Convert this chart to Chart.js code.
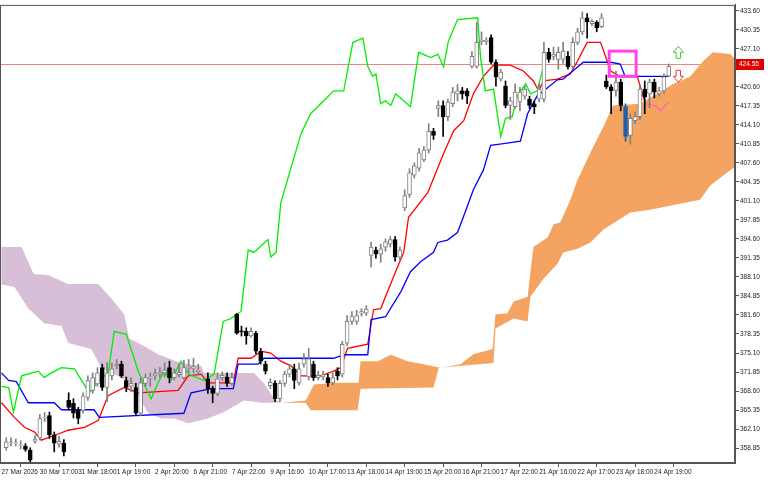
<!DOCTYPE html>
<html><head><meta charset="utf-8">
<script src="https://cdn.jsdelivr.net/npm/chart.js@4"></script>
<style>html,body{margin:0;padding:0;background:#fff}canvas{display:block}</style>
</head><body>
<canvas id="c" width="768" height="480"></canvas>
<script>
const xLabels = ['27 Mar 2026','30 Mar 17:00','31 Mar 18:00','1 Apr 19:00','2 Apr 20:00','6 Apr 21:00','7 Apr 22:00','9 Apr 16:00','10 Apr 17:00','13 Apr 18:00','14 Apr 19:00','15 Apr 20:00','16 Apr 21:00','17 Apr 22:00','21 Apr 16:00','22 Apr 17:00','23 Apr 18:00','24 Apr 19:00'];
const yTicks = [433.60,430.35,427.10,423.85,420.60,417.35,414.10,410.85,407.60,404.35,401.10,397.85,394.60,391.35,388.10,384.85,381.60,378.35,375.10,371.85,368.60,365.35,362.10,358.85];
const lastPrice = 424.55;
// [index, open, high, low, close]
const candles = [
[1,358.9,360.6,358.5,359.9],[2,359.8,360.6,359.2,359.9],[3,359.6,360.4,359.2,359.7],[4,359.3,360.1,358.7,359.4],[5,359.2,359.6,358.3,358.6],
[6,358.5,358.9,356.2,356.8],[7,360.0,361.0,359.7,360.4],[8,360.6,364.6,360.2,363.9],[9,364.0,364.9,363.4,364.1],[10,364.4,365.0,360.5,361.1],
[11,361.1,361.6,358.2,359.7],[12,359.5,360.9,359.0,360.0],[13,359.7,360.3,357.5,358.2],[14,367.0,368.3,365.3,365.8],[15,366.5,367.3,364.0,364.8],
[16,365.3,365.8,363.0,363.9],[17,365.3,368.3,364.8,367.8],[18,367.5,371.2,367.0,370.4],[19,368.7,371.7,368.2,370.9],[20,369.8,372.6,369.4,371.7],
[21,372.6,373.2,368.7,369.2],[22,369.2,373.5,366.8,371.7],[23,371.2,373.4,370.5,372.4],[24,372.9,374.0,372.4,373.2],[25,373.2,373.7,370.9,371.2],
[26,370.4,371.0,368.5,369.2],[27,369.4,370.9,368.5,369.9],[28,369.2,369.9,364.4,364.8],[29,364.8,370.9,364.4,370.0],[30,369.9,371.5,369.4,370.9],
[31,370.8,371.7,369.4,371.0],[32,371.2,372.4,370.5,371.6],[33,371.5,372.6,370.9,371.8],[34,371.7,373.4,371.0,372.2],[35,372.6,373.7,370.0,370.9],
[36,370.9,372.4,370.5,371.7],[37,371.4,373.2,371.0,371.8],[38,370.9,373.9,370.5,372.6],[39,372.4,374.0,371.7,372.7],[40,372.5,374.2,371.7,372.8],
[41,371.9,373.2,371.2,372.2],[43,370.7,371.7,368.2,369.0],[44,369.0,369.4,366.6,368.2],[45,368.2,371.7,367.8,370.7],[46,370.9,371.9,370.4,371.3],
[47,371.0,371.7,369.4,369.9],[48,369.9,371.7,369.6,370.9],[49,381.7,381.9,378.3,378.5],[50,378.9,379.7,378.0,378.7],[51,378.8,379.4,376.6,378.0],
[52,378.0,379.4,377.8,378.8],[53,378.5,378.8,375.0,375.4],[54,375.4,375.9,373.2,373.7],[55,373.2,373.7,371.5,372.0],[56,369.5,370.7,369.0,370.1],
[57,369.9,370.4,366.8,367.3],[58,367.3,370.4,366.8,369.9],[59,369.9,372.0,369.4,371.5],[60,371.5,373.2,371.0,372.4],[61,372.4,373.2,369.0,370.4],
[62,370.0,373.4,369.6,372.4],[63,373.2,375.0,372.7,374.1],[64,371.0,375.9,370.5,374.1],[65,373.2,373.7,370.4,370.9],[66,370.9,372.0,370.5,371.3],
[67,371.0,372.0,370.5,371.4],[68,370.9,371.5,369.4,370.0],[69,370.0,371.7,369.6,370.9],[70,372.0,372.6,370.5,371.2],[71,371.5,377.1,371.0,376.6],
[72,376.8,381.5,376.3,380.5],[73,380.5,382.2,380.0,381.4],[74,380.5,382.4,380.0,381.5],[75,381.9,382.7,381.4,382.2],[76,381.9,383.2,381.5,382.6],
[77,391.8,394.0,389.8,393.2],[78,392.7,393.2,391.3,392.0],[79,392.0,393.7,390.6,392.9],[80,393.2,394.6,392.5,394.1],[81,393.7,395.0,393.2,394.5],
[82,394.5,395.0,390.8,391.5],[83,391.5,393.2,391.0,392.7],[84,399.9,403.0,399.4,402.0],[85,402.2,406.6,401.7,405.9],[86,405.5,407.6,405.0,407.1],
[87,406.7,410.1,406.2,409.3],[88,408.1,410.4,407.8,409.8],[89,409.8,414.3,409.3,413.0],[90,413.0,413.5,411.6,412.3],[91,416.9,418.2,415.5,417.4],
[92,417.4,418.2,412.1,415.5],[93,415.5,418.5,414.8,418.0],[94,417.7,420.5,417.2,419.7],[95,419.4,421.0,418.2,419.9],[96,419.9,420.5,418.5,419.4],
[97,419.9,420.3,417.7,419.0],[98,424.1,426.6,423.8,425.8],[99,424.1,431.6,423.8,428.2],[100,428.3,430.0,427.8,428.6],[101,428.3,429.0,427.8,428.6],
[102,429.0,429.5,424.5,424.8],[103,424.8,425.2,420.7,422.3],[104,421.9,423.6,421.6,423.1],[105,420.7,421.6,417.0,417.4],[106,417.4,418.8,415.0,418.2],
[107,417.2,421.1,416.9,419.7],[108,418.0,420.5,416.5,419.7],[109,419.0,420.7,418.5,420.2],[110,418.5,419.0,416.9,417.4],[111,417.7,418.2,416.0,417.2],
[112,418.5,421.1,418.0,420.2],[113,418.5,428.2,418.0,426.5],[114,426.5,427.2,424.8,425.3],[115,425.8,427.4,425.2,426.2],[116,425.3,427.4,423.6,426.5],
[117,425.3,428.2,424.6,426.7],[118,425.8,426.6,423.6,424.0],[119,424.1,429.0,423.8,428.2],[120,428.2,430.6,427.8,430.0],[121,430.0,433.4,429.5,432.4],
[122,432.4,433.1,428.9,431.7],[123,431.4,432.1,431.0,431.8],[124,431.6,431.9,430.0,430.7],[125,430.9,433.1,430.7,432.4],[126,421.6,422.6,420.3,420.6],
[127,420.6,421.0,416.0,419.9],[128,419.9,423.3,419.0,421.4],[129,421.4,421.9,416.5,417.4],[130,417.2,417.7,411.3,412.1],[131,412.3,416.0,410.8,415.2],
[132,414.8,416.3,414.3,415.5],[133,415.5,420.7,415.0,420.2],[134,420.2,421.6,416.0,418.9],[135,419.4,421.9,417.0,421.4],[136,421.4,421.9,418.7,419.7],
[137,419.4,420.5,419.0,419.9],[138,419.9,422.8,419.5,422.3],[139,422.4,424.5,422.3,424.1]
];
const blueCandle = 130;
const chikou = [[0,369.4],[1.5,369.2],[2.5,365.0],[4.2,371.2],[7.7,372.0],[8.9,370.9],[10.4,371.7],[12.5,372.6],[15.2,372.4],[18.3,368.3],[20.8,370.9],[22.2,371.5],[23.5,378.8],[26,378.3],[28.5,372.0],[29.7,369.8],[31.2,367.3],[32.6,370.0],[33.9,372.0],[35.3,370.4],[37.4,373.7],[38.9,371.5],[42.2,370.4],[44.3,371.5],[46.2,380.5],[47.8,381.0],[49.9,382.2],[51.4,392.7],[52.6,392.3],[55.5,394.5],[56.1,391.5],[57.2,392.3],[58.2,400.8],[62.4,412.6],[64.4,416.0],[66.5,417.7],[69.2,419.9],[71.3,419.9],[73.2,428.2],[75.3,428.9],[76.3,424.1],[77.3,422.4],[78,422.8],[79,417.7],[80,418.2],[81.1,417.4],[82.1,419.4],[85.2,417.2],[86.9,426.5],[89.4,425.6],[90.9,426.2],[92.1,424.0],[93.1,428.4],[95,432.1],[99.2,432.4],[99.8,425.6],[100.8,419.9],[102.5,420.2],[104,412.1],[105,415.2],[106.4,415.5],[107.5,419.1],[109.2,421.1],[110.2,419.4],[111.6,419.9],[112.9,424.1]];
const tenkan = [[0,366.6],[2.7,364.1],[4.8,362.4],[6.9,361.6],[8.3,360.2],[11,361.0],[13.9,361.9],[17.3,362.4],[20.2,363.6],[22.2,367.8],[25.6,369.2],[28.5,368.3],[36.8,368.7],[38.9,371.2],[41.6,371.5],[43,370.0],[48.3,370.0],[49.3,374.2],[52,374.2],[54.1,375.4],[56.1,375.1],[58.2,373.7],[60.3,372.9],[62.4,371.2],[66.5,371.2],[69.2,372.0],[70.7,372.6],[72.1,375.9],[76.3,376.6],[77.5,382.5],[79,382.7],[82.1,389.0],[83.8,392.3],[84.8,398.3],[88.8,402.5],[92.1,409.2],[94.2,413.1],[96.3,414.8],[98.3,419.4],[100.4,422.4],[102.5,424.3],[106,424.3],[108.7,423.3],[110.8,421.6],[111.9,419.9],[112.9,421.6],[115.8,421.9],[118.5,422.8],[120,425.0],[122,428.2],[124.8,428.2],[126.9,423.3],[129,422.3],[132.5,422.3],[134.1,417.7]];
const pinkLine = [[134.1,417.7],[136.2,417.4],[137.3,416.5],[138.9,418.0]];
const kijun = [[0,371.7],[1.5,370.4],[3.1,370.2],[5.6,366.6],[11,366.6],[12.5,365.4],[19.3,365.4],[20.4,364.1],[38,364.8],[39.5,368.3],[43.7,369.0],[48.3,369.0],[49.3,373.2],[53.4,373.2],[54.7,374.2],[69.2,374.2],[71.3,374.8],[76.3,374.8],[77,380.8],[80,381.3],[83.2,385.6],[85.2,389.0],[87.3,390.7],[90,392.3],[90.9,394.0],[92.9,394.4],[95,395.7],[96.7,399.4],[98.3,403.0],[100.4,406.4],[101.9,410.6],[104.6,410.9],[108.1,411.3],[109.6,416.0],[111.6,419.1],[112.9,419.9],[115.8,421.8],[117,421.9],[120,424.0],[121.2,424.8],[126.9,424.8],[128.9,424.5],[129.9,422.4],[138.9,422.4]];
const kumoPastTop = [[0,393.2],[4.2,393.2],[6.7,388.6],[9.8,388.4],[13.9,386.9],[20.2,386.9],[22.9,384.4],[25.6,381.7],[26.6,377.6],[29.7,376.3],[32.6,374.9],[37.4,373.4],[41.6,372.9],[42.2,371.7],[52.6,371.7],[54.7,369.9],[56.8,367.3],[58.2,366.6]];
const kumoPastBottom = [[0,386.8],[2.7,386.4],[5.6,382.7],[8.9,380.2],[12.5,379.7],[13.9,376.8],[18.7,375.8],[20.8,372.6],[23.5,371.5],[27,369.9],[30.6,364.8],[33.3,363.9],[36,363.9],[38.9,363.1],[43,363.9],[46.4,365.0],[50.5,367.0],[54.1,366.6],[58.2,366.6]];
const kumoTop = [[58.2,366.6],[63.4,367.0],[65.1,369.7],[69.2,370.0],[74.4,370.0],[74.8,373.7],[78.4,373.7],[81.1,374.8],[84.6,373.7],[87.9,373.2],[91.5,372.6],[95.6,373.2],[98.3,374.9],[102.3,375.8],[102.9,381.7],[105.4,381.9],[106.7,383.9],[109.6,384.7],[110.8,393.2],[113.8,394.9],[115,397.1],[116.4,397.4],[118.5,401.3],[120,404.7],[123.3,410.4],[125.4,413.8],[127.4,417.4],[133,417.7],[137.2,419.7],[139.9,421.1],[143.4,422.3],[146.2,425.0],[148.2,426.5],[151.8,426.2],[153.8,424.5]];
const kumoBottom = [[58.2,366.6],[63.4,366.6],[64.4,365.3],[74.2,365.3],[74.8,369.0],[90,369.2],[91.1,372.6],[102.5,373.4],[102.9,379.3],[106.7,381.0],[109.6,380.5],[110.2,384.7],[112.9,387.8],[115.8,390.3],[117,392.3],[120,392.9],[122.7,394.0],[125.4,396.2],[131,399.1],[135.1,399.6],[145.5,401.3],[147.6,403.7],[151.1,405.9],[153.2,407.2]];
const signalBox = {x0:126.6, x1:132.2, y0:426.7, y1:422.4};
const arrowIdx = 141, upArrowPrice = 426.5, downArrowPrice = 422.4;

const pts = a => a.map(p => ({x:p[0], y:p[1]}));
const poly = (t,b) => pts(t.concat(b.slice().reverse()));
const isBull = c => c[4] >= c[1];
const bodyFill = candles.map(c => c[0]===blueCandle ? '#1f5fa8' : (isBull(c) ? '#ffffff' : '#000000'));
const bodyBorder = candles.map(c => c[0]===blueCandle ? '#1f5fa8' : (isBull(c) ? '#808080' : '#000000'));
const tickFont = {family:'Liberation Sans', size:6.5};

const overlay = {
  id:'overlay',
  beforeDatasetsDraw(ch){
    const {ctx, chartArea:a, scales:{x,y}} = ch;
    ctx.save();
    const py = Math.round(y.getPixelForValue(lastPrice))+0.5;
    ctx.strokeStyle='rgba(235,110,110,0.85)'; ctx.lineWidth=1;
    ctx.beginPath(); ctx.moveTo(a.left,py); ctx.lineTo(a.right,py); ctx.stroke();
    ctx.restore();
  },
  afterDatasetsDraw(ch){
    const {ctx, chartArea:a, scales:{x,y}} = ch;
    ctx.save();
    const bx0=x.getPixelForValue(signalBox.x0), bx1=x.getPixelForValue(signalBox.x1);
    const by0=y.getPixelForValue(signalBox.y0), by1=y.getPixelForValue(signalBox.y1);
    ctx.strokeStyle='#ff44ee'; ctx.lineWidth=3;
    ctx.strokeRect(bx0,by0,bx1-bx0,by1-by0);
    const ax=x.getPixelForValue(arrowIdx);
    const drawArrow=(cy,dir,col)=>{
      ctx.beginPath();
      const h=6, w=5, sw=2.2, L=6;
      ctx.moveTo(ax, cy - dir*h);
      ctx.lineTo(ax+w, cy);
      ctx.lineTo(ax+sw, cy);
      ctx.lineTo(ax+sw, cy + dir*L);
      ctx.lineTo(ax-sw, cy + dir*L);
      ctx.lineTo(ax-sw, cy);
      ctx.lineTo(ax-w, cy);
      ctx.closePath();
      ctx.fillStyle='#fff'; ctx.fill();
      ctx.strokeStyle=col; ctx.lineWidth=1; ctx.stroke();
    };
    drawArrow(y.getPixelForValue(upArrowPrice), 1, '#33cc33');
    drawArrow(y.getPixelForValue(downArrowPrice), -1, '#ee3333');
    ctx.strokeStyle='#555'; ctx.lineWidth=1;
    ctx.strokeRect(a.left+0.5,a.top+0.5,a.right-a.left-1,a.bottom-a.top-1);
    const py = Math.round(y.getPixelForValue(lastPrice));
    ctx.fillStyle='#dd0000'; ctx.fillRect(a.right+1, py-5, 28, 11);
    ctx.fillStyle='#fff'; ctx.font='6.5px "Liberation Sans"'; ctx.textBaseline='middle';
    ctx.fillText(lastPrice.toFixed(2), a.right+4, py+0.5);
    ctx.restore();
  }
};

new Chart(document.getElementById('c'), {
  type:'bar',
  data:{datasets:[
    {type:'line', data:poly(kumoPastTop,kumoPastBottom), fill:'shape', backgroundColor:'#d8bfd8', borderWidth:0, pointRadius:0, order:10},
    {type:'line', data:poly(kumoTop,kumoBottom), fill:'shape', backgroundColor:'#f4a460', borderWidth:0, pointRadius:0, order:9},
    {type:'line', data:pts(chikou), borderColor:'#00ee00', borderWidth:1.3, pointRadius:0, fill:false, order:3},
    {type:'line', data:pts(kijun), borderColor:'#0000ff', borderWidth:1.3, pointRadius:0, fill:false, order:3},
    {type:'line', data:pts(tenkan), borderColor:'#ff0000', borderWidth:1.3, pointRadius:0, fill:false, order:3},
    {type:'line', data:pts(pinkLine), borderColor:'#ff66aa', borderWidth:1.3, pointRadius:0, fill:false, order:3},
    {type:'bar', data:candles.map(c=>({x:c[0], y:[c[3],c[2]]})), backgroundColor:bodyBorder, barThickness:1, grouped:false, order:1},
    {type:'bar', data:candles.map(c=>({x:c[0], y:[c[1],c[4]]})), backgroundColor:bodyFill, borderColor:bodyBorder, borderWidth:1, borderSkipped:false, barThickness:4, grouped:false, order:0}
  ]},
  options:{
    responsive:false, animation:false,
    layout:{padding:0},
    plugins:{legend:{display:false}, tooltip:{enabled:false}},
    scales:{
      x:{type:'linear', min:-0.3, max:152.8, offset:false,
        grid:{drawOnChartArea:false, drawTicks:true, tickLength:4, color:'#555'},
        border:{display:true, color:'#555'},
        afterBuildTicks:s=>{s.ticks = xLabels.map((_,i)=>({value:i*8}));},
        afterFit:s=>{s.height=17;},
        ticks:{autoSkip:false, maxRotation:0, align:'start', padding:1, color:'#222', font:tickFont,
          callback:(v,i)=>xLabels[i]}
      },
      y:{position:'right', min:356.3, max:434.6,
        grid:{drawOnChartArea:false, drawTicks:true, tickLength:4, color:'#555'},
        border:{display:true, color:'#555'},
        afterBuildTicks:s=>{s.ticks = yTicks.map(v=>({value:v}));},
        afterFit:s=>{s.width=33;},
        ticks:{autoSkip:false, padding:1, color:'#222', font:tickFont,
          callback:v=>v.toFixed(2)}
      }
    }
  },
  plugins:[overlay]
});
</script>
</body></html>
